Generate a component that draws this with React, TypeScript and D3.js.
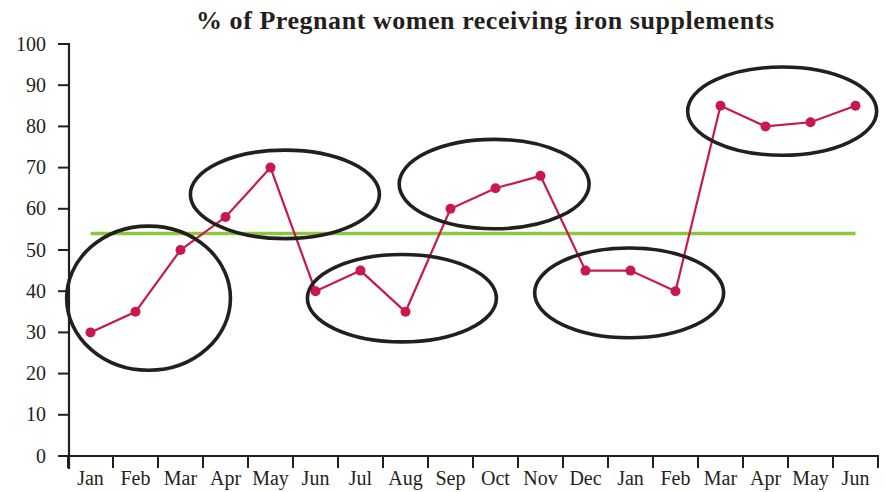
import React from "react";
import * as d3 from "d3";

const months = ["Jan","Feb","Mar","Apr","May","Jun","Jul","Aug","Sep","Oct","Nov","Dec","Jan","Feb","Mar","Apr","May","Jun"];
const values = [30,35,50,58,70,40,45,35,60,65,68,45,45,40,85,80,81,85];
const yTicks = [0,10,20,30,40,50,60,70,80,90,100];
const medianValue = 54;
// annotation ellipses: centre (category index, value) and radii (categories, value units)
const ellipseCx = [1.29, 4.32, 6.92, 8.97, 11.97, 15.37];
const ellipseCy = [38.3, 63.5, 38.3, 66.0, 39.6, 83.7];
const ellipseRx = [1.82, 2.1, 2.1, 2.11, 2.1, 2.1];
const ellipseRy = [17.5, 10.75, 10.6, 10.85, 10.9, 10.7];
const title = "% of Pregnant women receiving iron supplements";

const W = 886, H = 492;
const left = 68, right = 878, top = 44, bottom = 456;

export default function App() {
  const x = d3.scaleBand<number>().domain(d3.range(months.length)).range([left, right]).padding(0);
  const bw = x.bandwidth();
  const cx = (i: number) => (x(Math.floor(i)) as number) + bw / 2 + (i - Math.floor(i)) * bw;
  const y = d3.scaleLinear().domain([0, 100]).range([bottom, top]);
  const line = d3.line<number>().x((_, i) => cx(i)).y(d => y(d));
  const axisColor = "#231f20";
  const font = "'Liberation Serif', 'DejaVu Serif', serif";
  return (
    <svg width={W} height={H} style={{ position: "absolute", left: 0, top: 0, background: "#fff" }}>
      <text x={485} y={29} textAnchor="middle" fontFamily={font} fontWeight="bold" fontSize={26}
        textLength={578} lengthAdjust="spacing" fill={axisColor}>{title}</text>
      {/* y axis */}
      <line x1={left + 1} x2={left + 1} y1={top - 1} y2={bottom + 13} stroke={axisColor} strokeWidth={2.2} />
      {yTicks.map(t => (
        <g key={t}>
          <line x1={left - 10} x2={left + 1} y1={y(t)} y2={y(t)} stroke={axisColor} strokeWidth={2} />
          <text x={46} y={y(t) + 6.5} textAnchor="end" fontFamily={font} fontSize={20} fill={axisColor}>{t}</text>
        </g>
      ))}
      {/* x axis */}
      <line x1={left - 10} x2={right + 1} y1={bottom} y2={bottom} stroke={axisColor} strokeWidth={2} />
      {months.map((m, i) => (
        <g key={i}>
          <line x1={(x(i) as number)} x2={(x(i) as number)} y1={bottom} y2={bottom + 12} stroke={axisColor} strokeWidth={2} />
          <text x={cx(i)} y={485} textAnchor="middle" fontFamily={font} fontSize={20} fill={axisColor}>{m}</text>
        </g>
      ))}
      <line x1={right} x2={right} y1={bottom} y2={bottom + 12} stroke={axisColor} strokeWidth={2} />
      {/* median line */}
      <line x1={cx(0)} x2={cx(months.length - 1)} y1={y(medianValue)} y2={y(medianValue)} stroke="#8dc63f" strokeWidth={3.6} />
      {/* data */}
      <path d={line(values) || ""} fill="none" stroke="#c8194c" strokeWidth={2.2} />
      {values.map((v, i) => (
        <circle key={i} cx={cx(i)} cy={y(v)} r={5} fill="#c8194c" />
      ))}
      {/* ellipses */}
      {ellipseCx.map((e, k) => (
        <ellipse key={k} cx={cx(e)} cy={y(ellipseCy[k])} rx={ellipseRx[k] * bw} ry={y(0) - y(ellipseRy[k])}
          fill="none" stroke="#231f20" strokeWidth={3.6} />
      ))}
    </svg>
  );
}
